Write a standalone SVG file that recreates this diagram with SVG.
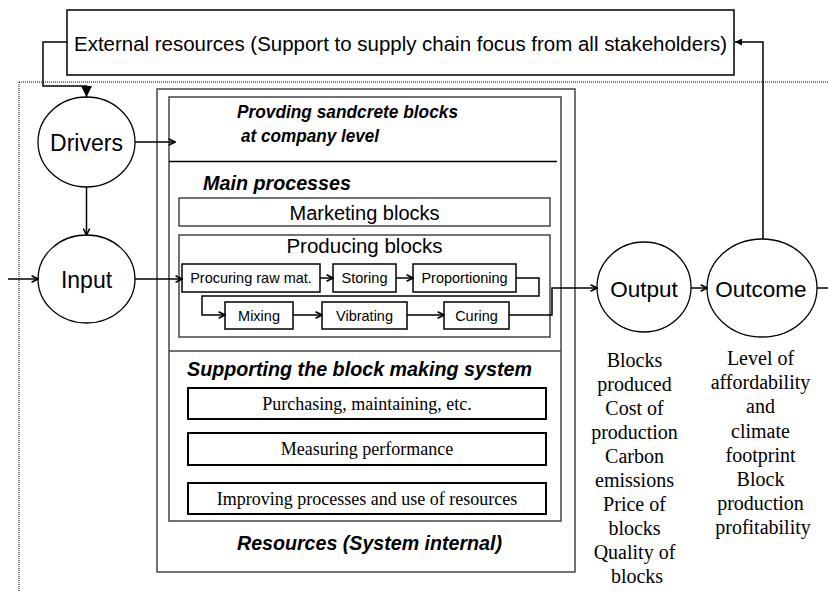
<svg xmlns="http://www.w3.org/2000/svg" width="828" height="591" viewBox="0 0 828 591">
<style>
.bx{fill:#fff;stroke:#000;stroke-width:1.5}
.gb{fill:none;stroke:#444;stroke-width:1.5}
.sb{fill:#fff;stroke:#000;stroke-width:2}
.el{fill:#fff;stroke:#000;stroke-width:1.3}
.cn{fill:none;stroke:#000;stroke-width:1.5}
.a{font-family:"Liberation Sans",Arial,sans-serif;fill:#000}
.bi{font-family:"Liberation Sans",Arial,sans-serif;font-weight:bold;font-style:italic;fill:#000}
.t{font-family:"Liberation Serif","Times New Roman",serif;fill:#000}
.c{text-anchor:middle}
</style>
<defs>
<marker id="chev" viewBox="0 0 10 10" refX="9" refY="5" markerWidth="8" markerHeight="8" markerUnits="userSpaceOnUse" orient="auto">
<path d="M1,1 L9,5 L1,9" fill="none" stroke="#000" stroke-width="2"/>
</marker>
<marker id="tri" viewBox="0 0 10 10" refX="10" refY="5" markerWidth="11" markerHeight="11" markerUnits="userSpaceOnUse" orient="auto">
<path d="M0,0 L10,5 L0,10 Z" fill="#000"/>
</marker>
<marker id="tris" viewBox="0 0 10 10" refX="10" refY="5" markerWidth="8" markerHeight="7" markerUnits="userSpaceOnUse" orient="auto">
<path d="M0,0 L10,5 L0,10 Z" fill="#000"/>
</marker>
</defs>

<g id="boundary">
<path d="M19,82 H828 M19,82 V591" fill="none" stroke="#000" stroke-width="1" stroke-dasharray="1,1"/>
</g>

<g id="external">
<rect class="bx" x="67" y="10" width="667" height="65"/>
<text class="a c" x="400.5" y="51" font-size="20" textLength="653" lengthAdjust="spacingAndGlyphs">External resources (Support to supply chain focus from all stakeholders)</text>
</g>

<g id="resources">
<rect class="gb" x="157" y="89" width="418" height="483"/>
<rect class="gb" x="169" y="97" width="392" height="424"/>
<line x1="169" y1="161.5" x2="557" y2="161.5" stroke="#000" stroke-width="1.3"/>
<line x1="169" y1="351" x2="561" y2="351" stroke="#444" stroke-width="1.5"/>
<text class="bi" x="237" y="118" font-size="18" textLength="221" lengthAdjust="spacingAndGlyphs">Provding sandcrete blocks</text>
<text class="bi" x="241" y="142" font-size="18" textLength="138" lengthAdjust="spacingAndGlyphs">at company level</text>
<text class="bi" x="203" y="190" font-size="21" textLength="148" lengthAdjust="spacingAndGlyphs">Main processes</text>
<text class="bi" x="187" y="376" font-size="21" textLength="345" lengthAdjust="spacingAndGlyphs">Supporting the block making system</text>
<text class="bi" x="237" y="550" font-size="21" textLength="265" lengthAdjust="spacingAndGlyphs">Resources (System internal)</text>
</g>

<g id="marketing">
<rect class="gb" x="179" y="198" width="371" height="28"/>
<text class="a c" x="364.5" y="220" font-size="20">Marketing blocks</text>
</g>

<g id="producing">
<rect class="gb" x="179" y="235" width="371" height="102"/>
<text class="a c" x="364.5" y="253" font-size="20.5">Producing blocks</text>
</g>

<g id="procuring">
<rect class="bx" x="182" y="264" width="138" height="28"/>
<text class="a c" x="251" y="283" font-size="14.5">Procuring raw mat.</text>
</g>
<g id="storing">
<rect class="bx" x="333" y="264" width="63" height="28"/>
<text class="a c" x="364.5" y="283" font-size="14.5">Storing</text>
</g>
<g id="proportioning">
<rect class="bx" x="413" y="264" width="103" height="28"/>
<text class="a c" x="464.5" y="283" font-size="14.5">Proportioning</text>
</g>
<g id="mixing">
<rect class="bx" x="225" y="302" width="68" height="27"/>
<text class="a c" x="259" y="321" font-size="14.5">Mixing</text>
</g>
<g id="vibrating">
<rect class="bx" x="322" y="302" width="85" height="27"/>
<text class="a c" x="364.5" y="321" font-size="14.5">Vibrating</text>
</g>
<g id="curing">
<rect class="bx" x="444" y="302" width="65" height="27"/>
<text class="a c" x="476.5" y="321" font-size="14.5">Curing</text>
</g>

<g id="purchasing">
<rect class="sb" x="188" y="388" width="358" height="31"/>
<text class="t c" x="367" y="410" font-size="18">Purchasing, maintaining, etc.</text>
</g>
<g id="measuring">
<rect class="sb" x="188" y="433" width="358" height="32"/>
<text class="t c" x="367" y="455" font-size="18">Measuring performance</text>
</g>
<g id="improving">
<rect class="sb" x="188" y="483" width="358" height="31"/>
<text class="t c" x="367" y="505" font-size="18">Improving processes and use of resources</text>
</g>

<g id="drivers">
<ellipse class="el" cx="86.5" cy="142" rx="48.5" ry="45"/>
<text class="a c" x="86.5" y="151" font-size="23">Drivers</text>
</g>
<g id="input">
<ellipse class="el" cx="86.5" cy="279" rx="48.5" ry="44"/>
<text class="a c" x="86.5" y="288" font-size="23">Input</text>
</g>
<g id="output">
<ellipse class="el" cx="644" cy="287" rx="47" ry="45"/>
<text class="a c" x="644" y="297" font-size="22.5">Output</text>
<text class="t c" x="637" font-size="20">
<tspan x="637" y="367">Blocks</tspan>
<tspan x="637" y="391">produced</tspan>
<tspan x="637" y="415">Cost of</tspan>
<tspan x="637" y="439">production</tspan>
<tspan x="637" y="463">Carbon</tspan>
<tspan x="637" y="487">emissions</tspan>
<tspan x="637" y="511">Price of</tspan>
<tspan x="637" y="535">blocks</tspan>
<tspan x="637" y="559">Quality of</tspan>
<tspan x="637" y="583">blocks</tspan>
</text>
</g>
<g id="outcome">
<ellipse class="el" cx="762" cy="288" rx="55" ry="49"/>
<text class="a c" x="761" y="297" font-size="22.5">Outcome</text>
<text class="t c" x="763" font-size="20">
<tspan x="763" y="365">Level of</tspan>
<tspan x="763" y="389">affordability</tspan>
<tspan x="763" y="413">and</tspan>
<tspan x="763" y="438">climate</tspan>
<tspan x="763" y="462">footprint</tspan>
<tspan x="763" y="486">Block</tspan>
<tspan x="763" y="510">production</tspan>
<tspan x="763" y="534">profitability</tspan>
</text>
</g>

<g id="connectors">
<path class="cn" d="M67,42 H43 V86 H86.5 V97" marker-end="url(#tri)"/>
<path class="cn" d="M763,239 V42 H735" marker-end="url(#tris)"/>
<path class="cn" d="M135,142 H175" marker-end="url(#chev)"/>
<path class="cn" d="M86.5,187 V235" marker-end="url(#chev)"/>
<path class="cn" d="M8,279 H38" marker-end="url(#chev)"/>
<path class="cn" d="M135,279 H182" marker-end="url(#chev)"/>
<path class="cn" d="M320,278 H333" marker-end="url(#chev)"/>
<path class="cn" d="M396,278 H413" marker-end="url(#chev)"/>
<path class="cn" d="M516,278 H539 V296 H202 V315 H225" marker-end="url(#chev)"/>
<path class="cn" d="M293,315 H322" marker-end="url(#chev)"/>
<path class="cn" d="M407,315 H444" marker-end="url(#chev)"/>
<path class="cn" d="M509,315 H552 V288 H597" marker-end="url(#chev)"/>
<path class="cn" d="M691,288 H707" marker-end="url(#chev)"/>
<path class="cn" d="M817,288 H828"/>
</g>
</svg>
